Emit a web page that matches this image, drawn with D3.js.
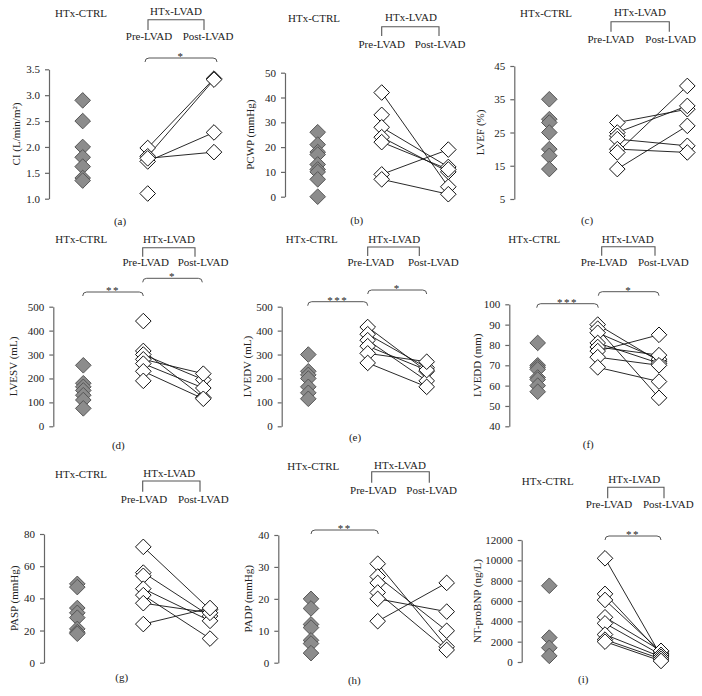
<!DOCTYPE html>
<html><head><meta charset="utf-8">
<script src="https://cdn.jsdelivr.net/npm/d3@7"></script>
<style>body{margin:0;background:#fff}svg{display:block}text{font-family:"Liberation Serif","DejaVu Serif",serif;fill:#222}</style>
</head><body>
<svg id="c" width="702" height="696"></svg>
<script>
// ---- data ----
const ctrlA = [2.9, 2.5, 2.0, 1.8, 1.62, 1.4, 1.35];
const preA  = [1.98, 1.82, 1.72, 1.78, 1.1];
const postA = [3.32, 3.3, 2.28, 1.9, null];

const ctrlB = [26, 21, 18, 17, 13, 11, 10, 7, 0];
const preB  = [42, 33, 28, 24, 22, 9, 7];
const postB = [4, null, 12, 10, 11, 19, 1];

const ctrlC = [35, 29, 28, 25, 20, 18, 14];
const preC  = [28, 25, 24, 23, 20, 19, 14];
const postC = [32, 33, null, 21, 19, 39, 27];

const ctrlD = [255, 180, 165, 150, 130, 110, 75];
const preD  = [440, 315, 300, 280, 262, 230, 190];
const postD = [null, 120, 195, 220, 160, 115, null];

const ctrlE = [300, 230, 215, 200, 165, 140, 115];
const preE  = [415, 385, 360, 335, 305, 265];
const postE = [230, 245, 190, 235, 270, 165];

const ctrlF = [81, 70, 69, 68, 64, 63, 60, 57];
const preF  = [90, 88, 86, 81, 79, 77, 74, 69];
const postF = [72, 54, 73, 71, 75, 85, 70, 62];

const ctrlG = [49, 47, 34, 31, 28, 21, 19, 18];
const preG  = [72, 56, 54, 46, 42, 37, 24];
const postG = [33, 29, null, 26, 15, 31, 34];

const ctrlH = [20, 17, 12, 11, 7, 6, 3];
const preH  = [31, 27, 25, 22, 20, 13];
const postH = [5, 10, null, 4, 16, 25];

const ctrlI = [7500, 2400, 1400, 600];
const preI  = [10200, 6700, 6100, 4400, 3800, 2700, 2200, 2000];
const postI = [600, 800, 1000, 1100, 700, 500, 300, 100];

const yTitles = ["CI (L/min/m²)", "PCWP (mmHg)", "LVEF (%)", "LVESV (mL)", "LVEDV (mL)", "LVEDD (mm)", "PASP (mmHg)", "PADP (mmHg)", "NT-proBNP (ng/L)"];
const panelTags = ["(a)", "(b)", "(c)", "(d)", "(e)", "(f)", "(g)", "(h)", "(i)"];
const domains = [[1, 3.5], [0, 50], [5, 45], [0, 500], [0, 500], [40, 100], [0, 80], [0, 40], [0, 12000]];
const tickVals = [
  [1.0, 1.5, 2.0, 2.5, 3.0, 3.5],
  [0, 10, 20, 30, 40, 50],
  [5, 15, 25, 35, 45],
  [0, 100, 200, 300, 400, 500],
  [0, 100, 200, 300, 400, 500],
  [40, 50, 60, 70, 80, 90, 100],
  [0, 20, 40, 60, 80],
  [0, 10, 20, 30, 40],
  [0, 2000, 4000, 6000, 8000, 10000, 12000]
];
const sigLabels = [["*"], [], [], ["**", "*"], ["***", "*"], ["***", "*"], [], ["**"], ["**"]];
const groupLabels = ["HTx-CTRL", "HTx-LVAD", "Pre-LVAD", "Post-LVAD"];

const series = [
  [ctrlA, preA, postA], [ctrlB, preB, postB], [ctrlC, preC, postC],
  [ctrlD, preD, postD], [ctrlE, preE, postE], [ctrlF, preF, postF],
  [ctrlG, preG, postG], [ctrlH, preH, postH], [ctrlI, preI, postI]
];

// ---- layout (pixel positions) ----
const layout = [
  {ax:49, yt:69.3, yb:198.7, xs:[82.7,147.7,214], ctrl:[81,17], lvad:[176,15], br:[148,204,19.7,30], pre:[149,39.5], post:[208,39.5], sig:[[145,217,58]], tag:[120,225], yt_x:16, fmt:".1f"},
  {ax:285, yt:72.7, yb:196.7, xs:[317.7,381.7,448.3], ctrl:[314,21.5], lvad:[411,20.7], br:[381.7,439,26.7,36], pre:[381.7,47.5], post:[440,47.5], sig:[], tag:[356.7,224], yt_x:250, fmt:"d"},
  {ax:514.3, yt:66, yb:199, xs:[549.3,617.3,687.3], ctrl:[546,17], lvad:[640,16], br:[611,669.3,21.7,31.7], pre:[610.7,42.5], post:[670.7,42.5], sig:[], tag:[587,224], yt_x:480, fmt:"d"},
  {ax:53.3, yt:306.7, yb:426.3, xs:[83.3,143.3,203.3], ctrl:[81.3,243.3], lvad:[169,243], br:[142.7,195,247.7,256.7], pre:[145.7,265.7], post:[203,265.7], sig:[[82.7,143.3,292],[142.7,202.3,278.3]], tag:[118.3,449], yt_x:13.3, fmt:"d"},
  {ax:281.7, yt:306.7, yb:426.3, xs:[308.3,367.7,426.7], ctrl:[311.7,243], lvad:[394.3,243], br:[367.7,419.3,247,256], pre:[370.7,265.7], post:[433.3,265.7], sig:[[307.7,367.7,301.7],[367.7,426.7,290]], tag:[355,441], yt_x:246.7, fmt:"d"},
  {ax:509.3, yt:304.3, yb:426.3, xs:[537.7,597.7,659], ctrl:[534.3,243], lvad:[627.7,243], br:[601.7,655,246.7,255.7], pre:[604,265.7], post:[663.3,265.7], sig:[[536.7,598.3,303.7],[598.3,659,291.7]], tag:[588.3,447.7], yt_x:476.7, fmt:"d"},
  {ax:44, yt:534, yb:662.7, xs:[77.3,143.3,210], ctrl:[81,478.3], lvad:[169.3,476.7], br:[142.7,200,481,491.7], pre:[144,502.7], post:[203.3,502.7], sig:[], tag:[121.7,680.7], yt_x:14, fmt:"d"},
  {ax:278.3, yt:535, yb:662.7, xs:[311,377.7,446.7], ctrl:[313.3,470], lvad:[400,469.3], br:[371.7,429.3,471.7,482.7], pre:[373.3,494.3], post:[431.7,494.3], sig:[[311,378.3,530]], tag:[354.3,684], yt_x:248.3, fmt:"d"},
  {ax:521.7, yt:540, yb:662, xs:[549.3,605,661], ctrl:[547.7,485], lvad:[634.3,483.3], br:[607.7,664,487.3,498.3], pre:[609,508.3], post:[668.3,508.3], sig:[[605,661,536]], tag:[583.3,682.7], yt_x:476.7, fmt:"d"}
];

const svg = d3.select("#c");
const R = 7.8;
const diamond = (x, y) => `M${x},${y - R}L${x + R},${y}L${x},${y + R}L${x - R},${y}Z`;
const FS = 11;
const gray = "#555";

layout.forEach((L, i) => {
  const g = svg.append("g");
  const y = d3.scaleLinear().domain(domains[i]).range([L.yb, L.yt]);
  const x = d3.scaleOrdinal().domain(["ctrl", "pre", "post"]).range(L.xs);
  const [ctrl, pre, post] = series[i];

  const axis = d3.axisLeft(y).tickValues(tickVals[i]).tickSizeInner(4).tickSizeOuter(0).tickPadding(5)
    .tickFormat(L.fmt === "d" ? d3.format("d") : d3.format(L.fmt));
  const ag = g.append("g").attr("transform", `translate(${L.ax},0)`).call(axis);
  ag.select(".domain").attr("stroke", "#666").attr("stroke-width", 1.2);
  ag.selectAll(".tick line").attr("stroke", "#666").attr("stroke-width", 1.2);
  ag.selectAll(".tick text").attr("font-family", "Liberation Serif, serif").attr("font-size", FS).attr("fill", "#222");

  g.append("text").attr("transform", `translate(${L.yt_x},${(L.yt + L.yb) / 2}) rotate(-90)`)
    .attr("text-anchor", "middle").attr("dy", "0.35em").attr("font-size", FS).text(yTitles[i]);

  g.append("text").attr("x", L.ctrl[0]).attr("y", L.ctrl[1]).attr("text-anchor", "middle").attr("font-size", FS).text(groupLabels[0]);
  g.append("text").attr("x", L.lvad[0]).attr("y", L.lvad[1]).attr("text-anchor", "middle").attr("font-size", FS).text(groupLabels[1]);
  g.append("text").attr("x", L.pre[0]).attr("y", L.pre[1]).attr("text-anchor", "middle").attr("font-size", FS).text(groupLabels[2]);
  g.append("text").attr("x", L.post[0]).attr("y", L.post[1]).attr("text-anchor", "middle").attr("font-size", FS).text(groupLabels[3]);
  const [b1, b2, by, bb] = L.br;
  g.append("path").attr("d", `M${b1},${bb}V${by}H${b2}V${bb}`).attr("fill", "none").attr("stroke", gray).attr("stroke-width", 1.1);

  L.sig.forEach((s, k) => {
    const [s1, s2, sy] = s;
    g.append("path").attr("d", `M${s1},${sy + 4}Q${s1},${sy} ${s1 + 4},${sy}H${s2 - 4}Q${s2},${sy} ${s2},${sy + 4}`)
      .attr("fill", "none").attr("stroke", gray).attr("stroke-width", 1);
    g.append("text").attr("x", (s1 + s2) / 2).attr("y", sy + 2).attr("text-anchor", "middle")
      .attr("font-size", FS).attr("letter-spacing", "1.5px").attr("fill", gray).text(sigLabels[i][k]);
  });

  const pairs = pre.map((p, k) => [p, post[k]]).filter(d => d[1] != null);
  g.selectAll(".ln").data(pairs).enter().append("line")
    .attr("x1", x("pre")).attr("y1", d => y(d[0])).attr("x2", x("post")).attr("y2", d => y(d[1]))
    .attr("stroke", "#111").attr("stroke-width", 0.9);

  g.selectAll(".cd").data(ctrl).enter().append("path")
    .attr("d", d => diamond(x("ctrl"), y(d))).attr("fill", "#8c8c8c").attr("stroke", "#555").attr("stroke-width", 1);

  g.selectAll(".pd").data(pre).enter().append("path")
    .attr("d", d => diamond(x("pre"), y(d))).attr("fill", "#fff").attr("stroke", "#111").attr("stroke-width", 1);
  g.selectAll(".qd").data(post.filter(d => d != null)).enter().append("path")
    .attr("d", d => diamond(x("post"), y(d))).attr("fill", "#fff").attr("stroke", "#111").attr("stroke-width", 1);

  g.append("text").attr("x", L.tag[0]).attr("y", L.tag[1]).attr("text-anchor", "middle").attr("font-size", FS).text(panelTags[i]);
});
</script>
</body></html>
